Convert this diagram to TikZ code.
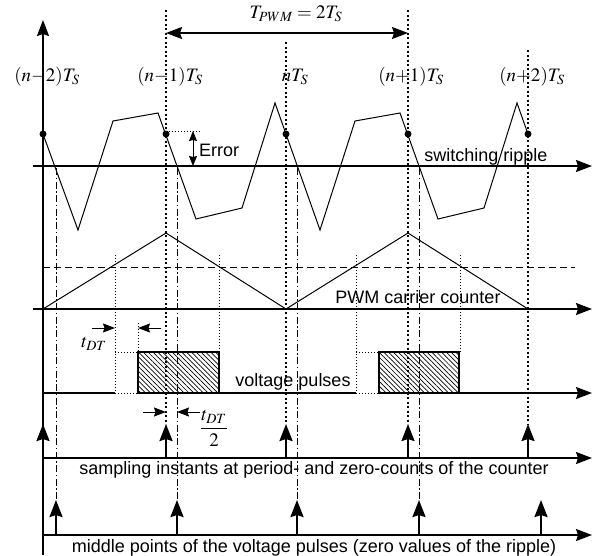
\documentclass[tikz,border=0pt]{standalone}
\usepackage{amsmath}
\usepackage{mathptmx}
\usepackage[no-math]{fontspec}
\setmainfont{Liberation Serif}
\setsansfont{Liberation Sans}
\usetikzlibrary{arrows.meta,patterns.meta}

\newcommand{\enm}{\mkern-2.5mu-\mkern-2.5mu}
\newcommand{\enp}{\mkern-2.5mu+\mkern-2.5mu}

\tikzset{
  achse/.style={line width=1.7pt},
  abtast/.style={line width=1.5pt, dash pattern=on 2pt off 2.5pt},
  mitte/.style={line width=1pt, dash pattern=on 7pt off 2.5pt on 1.5pt off 2.5pt},
  hilfs/.style={line width=0.8pt, dash pattern=on 1pt off 2pt},
  impuls/.style={line width=2.2pt, -{Stealth[length=17pt,width=13pt,inset=2pt]}},
  massp/.style={line width=1pt, -{Stealth[length=12pt,width=9pt,inset=1.5pt]}},
  punkt/.style={circle, fill, inner sep=0pt, minimum size=7pt},
  zeit/.style={font=\fontsize{19}{22}\selectfont},
  puls/.style={line width=1.3pt, pattern={Lines[angle=-45,distance=3.4pt,line width=0.7pt]}}
}

\begin{document}
\begin{tikzpicture}[x=1pt, y=-1pt, >={Stealth[length=16pt,width=12pt,inset=2pt]}, font=\sffamily\fontsize{18}{21}\selectfont]
	\useasboundingbox (0,0) rectangle (596,555);
	% Spannungspulse
	\foreach \a/\b in {138/219,379/459}
		\draw[puls] (\a,352) rectangle (\b,393);
	% Abtastzeitpunkte (gepunktet)
	\draw[abtast] (166,10) -- (166,424);
	\draw[abtast] (286,42) -- (286,424);
	\draw[abtast] (408,10) -- (408,424);
	\draw[abtast] (528,50) -- (528,424);
	% Pulsmitten (strichpunktiert)
	\foreach \x in {56,177,297,419} \draw[mitte] (\x,168) -- (\x,502);
	% Achsen zeichnen
	\draw[achse,->] (43,555) -- (43,20);
	\draw[achse,->] (33,166) -- (592,166);
	\draw[achse,->] (33,309) -- (592,309);
	\draw[achse,->] (43,458) -- (592,458);
	\draw[achse,->] (43,535) -- (592,535);
	% Periodendauer
	\coordinate (pa) at (166,33);
	\coordinate (pb) at (408,33);
	\draw[achse,<->] (pa) -- (pb);
	\node[zeit] (tpwm) at (296,14) {$T_{PWM}=2T_S$};
	% Beschriftung der Abtastzeitpunkte
	\node[zeit] (lnm2) at (47,77) {$(n\enm 2)T_S$};
	\node[zeit] (lnm1) at (170,77) {$(n\enm 1)T_S$};
	\node[zeit] (ln)   at (295,77) {$nT_S$};
	\node[zeit] (lnp1) at (411,77) {$(n\enp 1)T_S$};
	\node[zeit] (lnp2) at (532,77) {$(n\enp 2)T_S$};
	% Stromwelligkeit
	\draw[line width=1pt] (43,134) -- (78,230) -- (113,121) -- (158,113) -- (196,219) -- (242,208)
		-- (275,103) -- (320,230) -- (355,121) -- (400,113) -- (438,219) -- (484,208) -- (517,103) -- (528,134);
	\foreach \x in {43,166,286,408,528} \node[punkt] (d\x) at (\x,134) {};
	\node[above, inner sep=1pt] (ripple) at (486,166) {switching ripple};
	% Fehler
	\draw[hilfs, line width=1pt] (166,131) -- (200,131);
	\coordinate (ea) at (193,131);
	\coordinate (eb) at (193,166);
	\draw[line width=1pt, {Stealth[length=10pt,width=8pt,inset=1pt]}-{Stealth[length=10pt,width=8pt,inset=1pt]}] (ea) -- (eb);
	\node[right, inner sep=1pt] (err) at (198,150) {Error};
	% Zaehler
	\draw[line width=1pt] (43,309) -- (166,233) -- (286,309) -- (408,233) -- (528,309);
	\draw[line width=1pt, dash pattern=on 7pt off 4pt] (43,267) -- (575,267);
	\node (pwm) at (418,297) {PWM carrier counter};
	% Hilfslinien
	\draw[hilfs] (115,255) -- (115,393);
	\draw[hilfs] (219,255) -- (219,352);
	\draw[hilfs] (356,255) -- (356,393);
	\draw[hilfs] (460,255) -- (460,352);
	\draw[hilfs] (138,323) -- (138,352);
	% Pulsachse
	\draw[achse] (43,393) -- (115,393);
	\draw[hilfs] (115,393) -- (138,393);
	\draw[achse] (138,393) -- (356,393);
	\draw[hilfs] (356,393) -- (379,393);
	\draw[achse,->] (379,393) -- (592,393);
	\draw[hilfs] (115,352) -- (138,352);
	\draw[hilfs] (356,352) -- (379,352);
	\node (puls) at (293,382) {voltage pulses};
	% Totzeit
	\coordinate (ta) at (115,328);
	\coordinate (tb) at (138,328);
	\draw[massp] (92,328) -- (ta);
	\draw[massp] (161,328) -- (tb);
	\node[zeit] (tdt) at (94,344) {$t_{DT}$};
	\coordinate (ha) at (166,412);
	\coordinate (hb) at (177,412);
	\draw[massp] (143,412) -- (ha);
	\draw[massp] (200,412) -- (hb);
	\node[zeit] (tdt2) at (214,428) {$\dfrac{t_{DT}}{2}$};
	% Abtastimpulse
	\foreach \x in {43,166,286,408,528} \draw[impuls] (\x,458) -- (\x,424);
	\node (abt) at (314,470) {sampling instants at period- and zero-counts of the counter};
	% Pulsmitten
	\foreach \x in {56,177,297,419,541} \draw[impuls] (\x,535) -- (\x,500);
	\node (mid) at (314,548) {middle points of the voltage pulses (zero values of the ripple)};
\end{tikzpicture}
\end{document}
